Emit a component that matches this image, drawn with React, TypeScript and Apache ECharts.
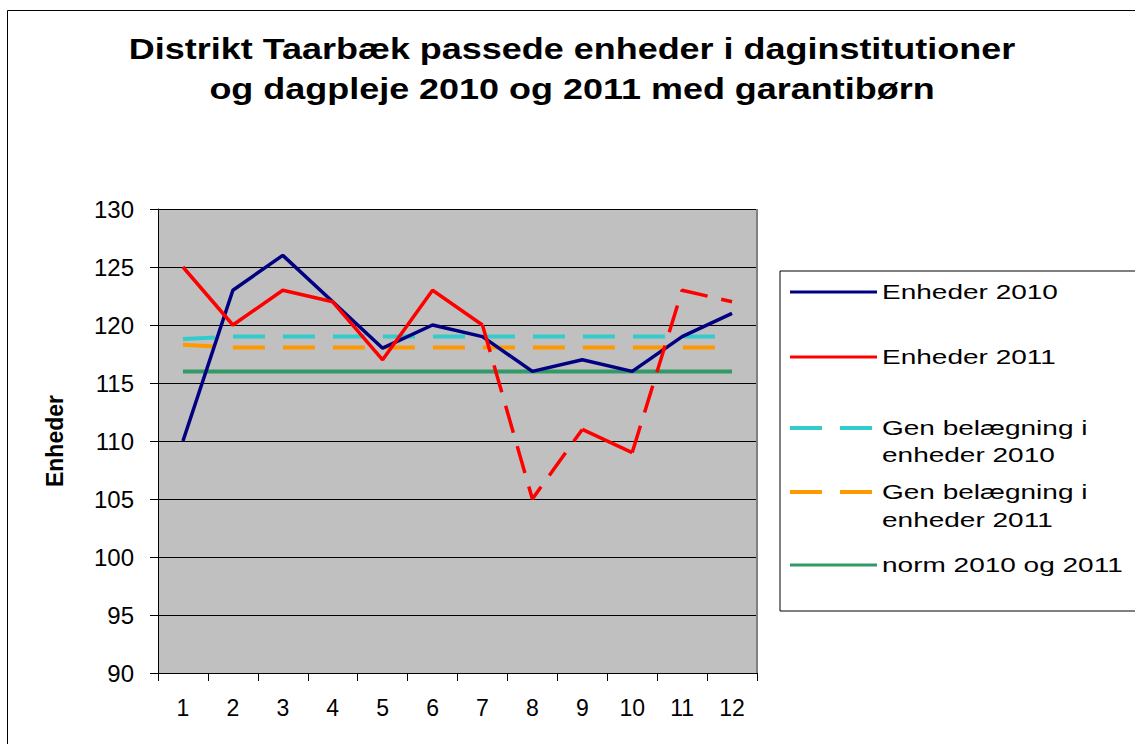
import React, { useEffect, useRef } from "react";
import * as echarts from "echarts";

const titleLines = [
  "Distrikt Taarbæk passede enheder i daginstitutioner",
  "og dagpleje 2010 og 2011 med garantibørn",
];
const months = ["1", "2", "3", "4", "5", "6", "7", "8", "9", "10", "11", "12"];
const enheder2010 = [110, 123, 126, 122, 118, 120, 119, 116, 117, 116, 119, 121];
const enheder2011 = [125, 120, 123, 122, 117, 123, 120, 105, 111, 109, 123, 122];
// segments of the 2011 line drawn dashed: [fromIndex, toIndex]
const dashed2011Segments = [[6, 8], [9, 11]];
const genBelaegning2010 = [118.8, 119, 119, 119, 119, 119, 119, 119, 119, 119, 119, 119];
const genBelaegning2011 = [118.3, 118.05, 118.05, 118.05, 118.05, 118.05, 118.05, 118.05, 118.05, 118.05, 118.05, 118.05];
const norm = [116, 116, 116, 116, 116, 116, 116, 116, 116, 116, 116, 116];
const yTicks = [90, 95, 100, 105, 110, 115, 120, 125, 130];

const legendItems = [
  { name: "Enheder 2010", lines: ["Enheder 2010"], color: "#000080", dashed: false },
  { name: "Enheder 2011", lines: ["Enheder 2011"], color: "#FF0000", dashed: false },
  { name: "Gen belægning i enheder 2010", lines: ["Gen belægning i", "enheder 2010"], color: "#33CCCC", dashed: true },
  { name: "Gen belægning i enheder 2011", lines: ["Gen belægning i", "enheder 2011"], color: "#FF9900", dashed: true },
  { name: "norm 2010 og 2011", lines: ["norm 2010 og 2011"], color: "#339966", dashed: false },
];

const FONT = "Liberation Sans, Arial, sans-serif";

export default function App() {
  const ref = useRef<HTMLDivElement>(null);
  useEffect(() => {
    if (!ref.current) return;
    const chart = echarts.init(ref.current, undefined, { renderer: "svg" });

    const solid2011: (number | null)[] = enheder2011.map(() => null);
    const inDashedSeg = (i: number) => dashed2011Segments.some(([a, b]) => i >= a && i < b);
    for (let i = 0; i < enheder2011.length - 1; i++) {
      if (!inDashedSeg(i)) {
        solid2011[i] = enheder2011[i];
        solid2011[i + 1] = enheder2011[i + 1];
      }
    }
    const dashedSeries = dashed2011Segments.map(([a, b], k) => ({
      name: "Enheder 2011 stiplet " + k,
      type: "line",
      data: enheder2011.map((v, i) => (i >= a && i <= b ? v : null)),
      symbol: "none",
      lineStyle: { color: "#FF0000", width: 3.5, type: [28, 14] },
      z: 4,
    }));

    const legendX = 780;
    const legendY = 271;
    const itemYs: any[] = [292, 357, [428, 455], [492, 520], 565];
    const legendGraphics: any[] = [
      {
        type: "rect",
        shape: { x: legendX, y: legendY, width: 400, height: 340 },
        style: { fill: "#fff", stroke: "#000", lineWidth: 1 },
        z: 10,
      },
    ];
    legendItems.forEach((it, idx) => {
      const ys = itemYs[idx];
      const y0 = Array.isArray(ys) ? ys[0] : ys;
      legendGraphics.push({
        type: "line",
        shape: { x1: 790, y1: y0, x2: 877, y2: y0 },
        style: {
          stroke: it.color,
          lineWidth: it.dashed ? 4 : 3,
          lineDash: it.dashed ? [32, 18] : null,
        },
        z: 11,
      });
      it.lines.forEach((ln, j) => {
        const yy = Array.isArray(ys) ? ys[j] : ys;
        legendGraphics.push({
          type: "text",
          x: 882,
          y: yy,
          scaleX: 1.4,
          style: {
            text: ln,
            fontSize: 20,
            fontFamily: FONT,
            fill: "#000",
            verticalAlign: "middle",
            align: "left",
          },
          z: 11,
        });
      });
    });

    const titleGraphics = titleLines.map((t, i) => ({
      type: "text",
      x: 572,
      y: 49 + i * 40,
      scaleX: 1.24,
      style: {
        text: t,
        fontSize: 29,
        fontWeight: "bold",
        fontFamily: FONT,
        fill: "#000",
        align: "center",
        verticalAlign: "middle",
      },
      z: 5,
    }));

    chart.setOption({
      animation: false,
      backgroundColor: "#fff",
      graphic: [
        {
          type: "rect",
          shape: { x: 7.5, y: 10.5, width: 1200, height: 800 },
          style: { fill: "none", stroke: "#000", lineWidth: 1 },
          z: 0,
        },
        ...titleGraphics,
        ...legendGraphics,
        {
          type: "line",
          shape: { x1: 757, y1: 209, x2: 757, y2: 673 },
          style: { stroke: "#808080", lineWidth: 2 },
          z: 1,
        },
      ],
      grid: { left: 158, top: 209, width: 599, height: 464, backgroundColor: "#C0C0C0", show: true, borderWidth: 0 },
      xAxis: {
        type: "category",
        data: months,
        boundaryGap: true,
        axisLine: { show: true, lineStyle: { color: "#000", width: 1 } },
        axisTick: { show: true, alignWithLabel: false, length: 8, lineStyle: { color: "#000" } },
        axisLabel: { fontSize: 23, color: "#000", margin: 23, fontFamily: FONT },
        splitLine: { show: false },
      },
      yAxis: {
        type: "value",
        min: 90,
        max: 130,
        interval: 5,
        name: "Enheder",
        nameLocation: "middle",
        nameRotate: 90,
        nameGap: 92,
        nameTextStyle: { fontSize: 23, fontWeight: "bold", color: "#000", fontFamily: FONT },
        axisLine: { show: true, lineStyle: { color: "#000", width: 1 } },
        axisTick: { show: true, length: 8, lineStyle: { color: "#000" } },
        axisLabel: {
          fontSize: 24,
          color: "#000",
          margin: 24,
          fontFamily: FONT,
          formatter: (v: number) => (yTicks.includes(v) ? String(v) : ""),
        },
        splitLine: { show: true, lineStyle: { color: "#000", width: 1 } },
      },
      series: [
        {
          name: "norm 2010 og 2011",
          type: "line",
          data: norm,
          symbol: "none",
          lineStyle: { color: "#339966", width: 4 },
          z: 2,
        },
        {
          name: "Gen belægning i enheder 2010",
          type: "line",
          data: genBelaegning2010,
          symbol: "none",
          lineStyle: { color: "#33CCCC", width: 4, type: [32, 18] },
          z: 2,
        },
        {
          name: "Gen belægning i enheder 2011",
          type: "line",
          data: genBelaegning2011,
          symbol: "none",
          lineStyle: { color: "#FF9900", width: 4, type: [32, 18] },
          z: 2,
        },
        {
          name: "Enheder 2010",
          type: "line",
          data: enheder2010,
          symbol: "none",
          lineStyle: { color: "#000080", width: 3.5 },
          z: 3,
        },
        {
          name: "Enheder 2011",
          type: "line",
          data: solid2011,
          connectNulls: false,
          symbol: "none",
          lineStyle: { color: "#FF0000", width: 3.5 },
          z: 4,
        },
        ...dashedSeries,
      ],
    });
    return () => chart.dispose();
  }, []);
  return <div ref={ref} style={{ position: "fixed", left: 0, top: 0, width: 1135, height: 744 }} />;
}
